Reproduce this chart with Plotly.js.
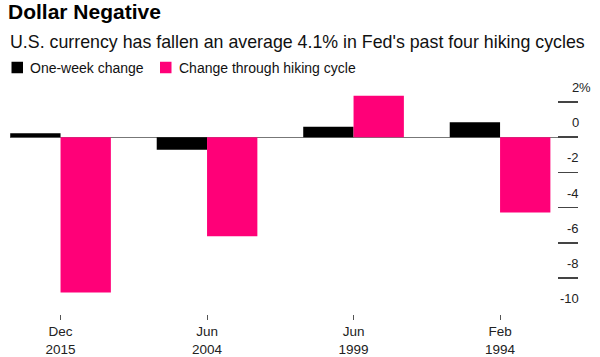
<!DOCTYPE html>
<html>
<head>
<meta charset="utf-8">
<script src="https://cdn.plot.ly/plotly-3.0.1.min.js"></script>
<style>html,body{margin:0;padding:0;background:#fff;}#chart{width:600px;height:357px;}</style>
</head>
<body>
<div id="chart"></div>
<script>
// ---- data ----
const months = ["Dec", "Jun", "Jun", "Feb"];
const years = ["2015", "2004", "1999", "1994"];
const weeklyChange = [0.22, -0.72, 0.59, 0.85];
const cycleChange = [-8.82, -5.63, 2.35, -4.28];
const seriesNames = ["One-week change", "Change through hiking cycle"];
const seriesColors = ["#000000", "#ff0078"];
const yTickVals = [2, 0, -2, -4, -6, -8, -10];
const yTickText = ["2", "0", "-2", "-4", "-6", "-8", "-10"];
const yTickSuffix = ["%", "", "", "", "", "", ""];
const titleText = "Dollar Negative";
const subtitleText = "U.S. currency has fallen an average 4.1% in Fed's past four hiking cycles";

// ---- layout helpers ----
const W = 600, H = 357;
const M = {l: 10, r: 22, t: 74, b: 43};
const px = x => (x - M.l) / (W - M.l - M.r);
const py = y => (H - M.b - y) / (H - M.t - M.b);
const FONT = "Liberation Sans, Arial, Helvetica, sans-serif";
const PXPERUNIT = 17.6;
const ZERO_Y = 137.2;
const yTop = (ZERO_Y - M.t) / PXPERUNIT;
const yBot = -((H - M.b) - ZERO_Y) / PXPERUNIT;

const cats = months.map((m, i) => m + "<br>" + years[i]);

const traces = [weeklyChange, cycleChange].map((vals, i) => ({
  type: "bar",
  x: cats,
  y: vals,
  name: seriesNames[i],
  marker: {color: seriesColors[i], line: {width: 0}},
  showlegend: false,
  hoverinfo: "skip"
}));

// legend drawn manually
const legendX = [11.5, 160];
const legendSq = 11.5;
const legendY = 67.5;
const shapes = seriesNames.map((n, i) => ({
  type: "rect", xref: "paper", yref: "paper",
  x0: px(legendX[i]), x1: px(legendX[i] + legendSq),
  y0: py(legendY + legendSq / 2), y1: py(legendY - legendSq / 2),
  fillcolor: seriesColors[i], line: {width: 0}
}));
const annotations = seriesNames.map((n, i) => ({
  xref: "paper", yref: "paper",
  x: px(legendX[i] + legendSq + 5), y: py(legendY),
  xanchor: "left", yanchor: "middle",
  text: n, showarrow: false,
  font: {family: FONT, size: 14, color: "#111"}
}));
annotations.push({
  xref: "paper", yref: "paper",
  x: px(8), y: py(42), xanchor: "left", yanchor: "middle",
  text: subtitleText, showarrow: false,
  font: {family: FONT, size: 17.8, color: "#111"}
});
// y tick labels, placed above the tick lines
const tickFont = {family: FONT, size: 13, color: "#222"};
yTickVals.forEach((v, i) => {
  annotations.push({
    xref: "paper", yref: "y", x: px(579), y: v, yshift: 14.5,
    xanchor: "right", yanchor: "middle", showarrow: false,
    borderpad: 0, borderwidth: 0,
    text: yTickText[i], font: tickFont
  });
  if (yTickSuffix[i]) {
    annotations.push({
      xref: "paper", yref: "y", x: px(579), y: v, yshift: 14.5,
      xanchor: "left", yanchor: "middle", showarrow: false,
      borderpad: 0, borderwidth: 0,
      text: yTickSuffix[i], font: tickFont
    });
  }
});

const layout = {
  width: W, height: H,
  margin: M,
  paper_bgcolor: "#fff", plot_bgcolor: "#fff",
  title: {
    text: "<b>" + titleText + "</b>",
    font: {family: FONT, size: 21, color: "#000"},
    x: 8 / W, xanchor: "left", xref: "container",
    y: 1 - 11.5 / H, yanchor: "middle", yref: "container"
  },
  barmode: "group",
  bargap: 0.313,
  bargroupgap: 0,
  xaxis: {
    type: "category",
    range: [-0.345, 3.532],
    showgrid: false, zeroline: false, showline: false,
    ticks: "outside", ticklen: 5, tickwidth: 1, tickcolor: "#555",
    tickfont: {family: FONT, size: 13.5, color: "#222"},
    fixedrange: true
  },
  yaxis: {
    side: "right",
    range: [yBot, yTop],
    tickvals: yTickVals,
    showticklabels: false,
    ticks: "inside", ticklen: 20, tickwidth: 1.5, tickcolor: "#444",
    showgrid: false, showline: false,
    zeroline: true, zerolinecolor: "#777", zerolinewidth: 1,
    fixedrange: true
  },
  shapes: shapes,
  annotations: annotations,
  showlegend: false
};

Plotly.newPlot("chart", traces, layout, {staticPlot: true, displayModeBar: false});
</script>
</body>
</html>
